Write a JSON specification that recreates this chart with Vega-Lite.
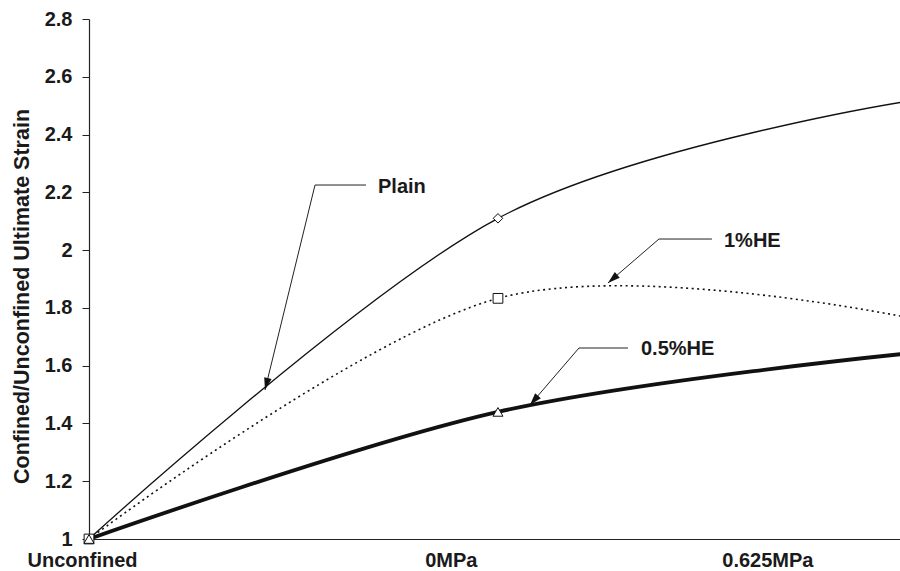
{
  "$schema": "https://vega.github.io/schema/vega-lite/v6.json",
  "width": 811,
  "height": 520,
  "autosize": {"type": "none"},
  "padding": {"left": 89, "top": 19, "right": 0, "bottom": 32},
  "background": "white",
  "config": {
    "view": {"stroke": null},
    "font": "Liberation Sans",
    "text": {"font": "Liberation Sans"}
  },
  "datasets": {
    "curves": [
      {"series": "Plain", "condition": "Unconfined", "pos": 0, "ratio": 1.0},
      {"series": "Plain", "condition": "0MPa", "pos": 1, "ratio": 2.11},
      {"series": "Plain", "condition": "0.625MPa", "pos": 2, "ratio": 2.515},
      {"series": "1%HE", "condition": "Unconfined", "pos": 0, "ratio": 1.0},
      {"series": "1%HE", "condition": "0MPa", "pos": 1, "ratio": 1.833},
      {"series": "1%HE", "condition": "0.625MPa", "pos": 2, "ratio": 1.767},
      {"series": "0.5%HE", "condition": "Unconfined", "pos": 0, "ratio": 1.0},
      {"series": "0.5%HE", "condition": "0MPa", "pos": 1, "ratio": 1.44},
      {"series": "0.5%HE", "condition": "0.625MPa", "pos": 2, "ratio": 1.642}
    ],
    "notes": [
      {"label": "Plain", "elbowX": 0.5526, "elbowY": 2.2253, "endX": 0.6773, "tipX": 0.4303, "tipY": 1.5157, "textX": 0.7066, "textY": 2.2184},
      {"label": "1%HE", "elbowX": 1.3936, "elbowY": 2.0384, "endX": 1.5232, "tipX": 1.2689, "tipY": 1.8861, "textX": 1.5526, "textY": 2.0315},
      {"label": "0.5%HE", "elbowX": 1.198, "elbowY": 1.6611, "endX": 1.3178, "tipX": 1.0782, "tipY": 1.4638, "textX": 1.3496, "textY": 1.6577}
    ]
  },
  "layer": [
    {
      "data": {"name": "curves"},
      "transform": [{"filter": "datum.series === 'Plain'"}],
      "mark": {"type": "line", "interpolate": "cardinal", "clip": true, "color": "#111", "strokeWidth": 1.3},
      "encoding": {
        "x": {
          "field": "pos",
          "type": "quantitative",
          "scale": {"domain": [0, 1.983], "nice": false, "zero": false},
          "axis": {
            "title": null,
            "values": [0.1174, 0.9487, 1.7702],
            "labelExpr": "datum.value < 0.5 ? 'Unconfined' : datum.value < 1.5 ? '0MPa' : '0.625MPa'",
            "labelAlign": "right",
            "labelFlush": false,
            "labelOverlap": false,
            "ticks": false,
            "grid": false,
            "domainColor": "#222",
            "domainWidth": 1.2,
            "labelFontSize": 20,
            "labelFontWeight": "bold",
            "labelColor": "#1a1a1a",
            "labelPadding": 11
          }
        },
        "y": {
          "field": "ratio",
          "type": "quantitative",
          "scale": {"domain": [1, 2.8], "nice": false, "zero": false},
          "axis": {
            "title": "Confined/Unconfined Ultimate Strain",
            "values": [1, 1.2, 1.4, 1.6, 1.8, 2, 2.2, 2.4, 2.6, 2.8],
            "format": ".1~f",
            "grid": false,
            "tickSize": 7,
            "tickColor": "#222",
            "domainColor": "#222",
            "domainWidth": 1.2,
            "labelFontSize": 20,
            "labelFontWeight": "bold",
            "labelColor": "#1a1a1a",
            "labelPadding": 10,
            "labelFlush": false,
            "titleFontSize": 21.5,
            "titleFontWeight": "bold",
            "titleColor": "#1a1a1a",
            "titleX": -67,
            "titleY": 277,
            "titleAngle": -90,
            "titleAlign": "center",
            "titleBaseline": "middle"
          }
        }
      }
    },
    {
      "data": {"name": "curves"},
      "transform": [{"filter": "datum.series === '1%HE'"}],
      "mark": {"type": "line", "interpolate": "cardinal", "clip": true, "color": "#111", "strokeWidth": 1.6, "strokeDash": [2, 3.5]},
      "encoding": {
        "x": {"field": "pos", "type": "quantitative"},
        "y": {"field": "ratio", "type": "quantitative"}
      }
    },
    {
      "data": {"name": "curves"},
      "transform": [{"filter": "datum.series === '0.5%HE'"}],
      "mark": {"type": "line", "interpolate": "cardinal", "clip": true, "color": "#111", "strokeWidth": 3.8},
      "encoding": {
        "x": {"field": "pos", "type": "quantitative"},
        "y": {"field": "ratio", "type": "quantitative"}
      }
    },
    {
      "mark": {"type": "rule", "color": "#222", "strokeWidth": 1.2},
      "encoding": {"y": {"datum": 2.8, "type": "quantitative"}}
    },
    {
      "mark": {"type": "rule", "color": "#222", "strokeWidth": 1},
      "encoding": {"x": {"datum": 1, "type": "quantitative"}}
    },
    {
      "data": {"name": "curves"},
      "transform": [{"filter": "datum.pos <= 1"}],
      "mark": {"type": "point", "filled": false, "color": "#111", "strokeWidth": 1, "fill": "white", "fillOpacity": 1},
      "encoding": {
        "x": {"field": "pos", "type": "quantitative"},
        "y": {"field": "ratio", "type": "quantitative"},
        "shape": {
          "field": "series",
          "type": "nominal",
          "scale": {"domain": ["Plain", "1%HE", "0.5%HE"], "range": ["diamond", "square", "triangle-up"]},
          "legend": null
        },
        "size": {
          "field": "series",
          "type": "nominal",
          "scale": {"domain": ["Plain", "1%HE", "0.5%HE"], "range": [90, 100, 160]},
          "legend": null
        }
      }
    },
    {
      "data": {"name": "notes"},
      "mark": {"type": "rule", "color": "#222", "strokeWidth": 1},
      "encoding": {
        "x": {"field": "elbowX", "type": "quantitative"},
        "x2": {"field": "endX"},
        "y": {"field": "elbowY", "type": "quantitative"}
      }
    },
    {
      "data": {"name": "notes"},
      "mark": {"type": "rule", "color": "#222", "strokeWidth": 1},
      "encoding": {
        "x": {"field": "elbowX", "type": "quantitative"},
        "x2": {"field": "tipX"},
        "y": {"field": "elbowY", "type": "quantitative"},
        "y2": {"field": "tipY"}
      }
    },
    {
      "data": {"name": "notes"},
      "transform": [{"filter": "datum.label === 'Plain'"}],
      "mark": {"type": "point", "shape": "M0,0L-0.8,2.6L0.8,2.6Z", "filled": true, "color": "#111", "opacity": 1, "size": 90, "angle": 193.7},
      "encoding": {
        "x": {"field": "tipX", "type": "quantitative"},
        "y": {"field": "tipY", "type": "quantitative"}
      }
    },
    {
      "data": {"name": "notes"},
      "transform": [{"filter": "datum.label === '1%HE'"}],
      "mark": {"type": "point", "shape": "M0,0L-0.8,2.6L0.8,2.6Z", "filled": true, "color": "#111", "opacity": 1, "size": 90, "angle": 229.2},
      "encoding": {
        "x": {"field": "tipX", "type": "quantitative"},
        "y": {"field": "tipY", "type": "quantitative"}
      }
    },
    {
      "data": {"name": "notes"},
      "transform": [{"filter": "datum.label === '0.5%HE'"}],
      "mark": {"type": "point", "shape": "M0,0L-0.8,2.6L0.8,2.6Z", "filled": true, "color": "#111", "opacity": 1, "size": 90, "angle": 220.7},
      "encoding": {
        "x": {"field": "tipX", "type": "quantitative"},
        "y": {"field": "tipY", "type": "quantitative"}
      }
    },
    {
      "data": {"name": "notes"},
      "mark": {"type": "text", "align": "left", "baseline": "middle", "fontSize": 20, "fontWeight": "bold", "color": "#1a1a1a"},
      "encoding": {
        "x": {"field": "textX", "type": "quantitative"},
        "y": {"field": "textY", "type": "quantitative"},
        "text": {"field": "label"}
      }
    }
  ]
}
